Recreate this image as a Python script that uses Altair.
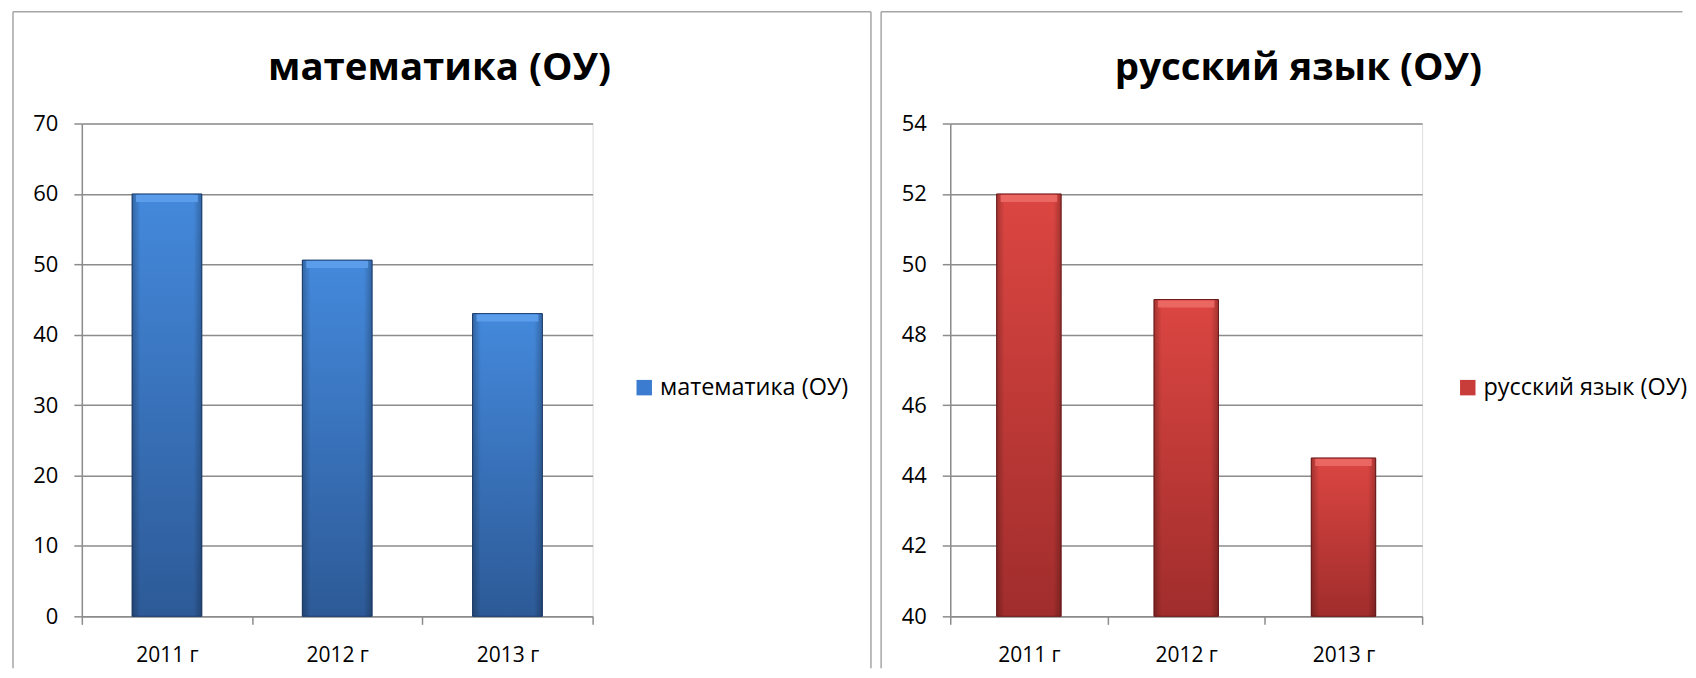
import altair as alt
import pandas as pd

years = ["2011 г", "2012 г", "2013 г"]
math_values = [60, 50.6, 43]
rus_values = [52, 49, 44.5]
math_title = "математика (ОУ)"
rus_title = "русский язык (ОУ)"
math_ticks = [0, 10, 20, 30, 40, 50, 60, 70]
rus_ticks = [40, 42, 44, 46, 48, 50, 52, 54]

FONT = "Open Sans"
GRID = "#8C8C8C"
BORDER = "#A6A6A6"
PLOT_H = 494


def panel(values, title, ticks, legend_color, c_top, c_bot, c_edge, c_bevel,
          width, title_x, legend_x, border_left, border_right, border_top_end):
    df = pd.DataFrame({"year": years, "value": values, "series": [title] * len(years)})
    bar_px = width / 3 * 0.41
    x = alt.X("year:N", sort=years, title=None,
              scale=alt.Scale(paddingInner=0, paddingOuter=0),
              axis=alt.Axis(labelAngle=0, tickBand="extent", tickSize=8,
                            tickColor=GRID, tickWidth=1.5, domainColor=GRID,
                            domainWidth=1.5, labelFont=FONT, labelFontSize=21,
                            labelColor="#000000", labelPadding=20, grid=False))
    y = alt.Y("value:Q", title=None,
              scale=alt.Scale(domain=[ticks[0], ticks[-1]], nice=False, zero=False,
                              clamp=True),
              axis=alt.Axis(values=ticks, tickSize=8, tickColor=GRID, tickWidth=1.5,
                            domainColor=GRID, domainWidth=1.5, gridColor=GRID,
                            gridWidth=1.5, grid=True, labelFont=FONT, labelFontSize=22,
                            labelColor="#000000", labelPadding=16))
    base = alt.Chart(df)
    legend_bars = base.mark_bar(width=alt.RelativeBandSize(0.41)).encode(
        x=x, y=y,
        color=alt.Color("series:N", title=None,
                        scale=alt.Scale(range=[legend_color]),
                        legend=alt.Legend(orient="none", legendX=legend_x, legendY=253,
                                          symbolType="square", symbolSize=240,
                                          symbolStrokeWidth=0, labelFont=FONT,
                                          labelFontSize=23.5, labelColor="#000000",
                                          labelOffset=4, labelLimit=0, padding=0)))
    grad = alt.LinearGradient(
        gradient="linear", x1=0, x2=0, y1=0, y2=1,
        stops=[alt.GradientStop(color=c_top, offset=0),
               alt.GradientStop(color=c_bot, offset=1)])
    bars = base.mark_bar(width=alt.RelativeBandSize(0.41), color=grad,
                         stroke=c_edge, strokeWidth=1).encode(x=x, y=y)
    side = alt.LinearGradient(
        gradient="linear", x1=0, x2=1, y1=0, y2=0,
        stops=[alt.GradientStop(color="rgba(0,0,0,0.25)", offset=0),
               alt.GradientStop(color="rgba(0,0,0,0)", offset=0.12),
               alt.GradientStop(color="rgba(0,0,0,0)", offset=0.88),
               alt.GradientStop(color="rgba(0,0,0,0.25)", offset=1)])
    shade = base.mark_bar(width=alt.RelativeBandSize(0.41), color=side).encode(x=x, y=y)
    bevel = base.mark_tick(orient="horizontal", thickness=7, size=bar_px - 8,
                           yOffset=4.5, color=c_bevel, opacity=0.9).encode(x=x, y=y)

    one = alt.Chart(pd.DataFrame({"t": [title]}))
    layers = [legend_bars, bars, shade, bevel]
    layers.append(one.mark_rule(color=BORDER, strokeWidth=1.5).encode(
        x=alt.value(border_left), y=alt.value(-112), y2=alt.value(546)))
    layers.append(one.mark_rule(color=BORDER, strokeWidth=1.5).encode(
        x=alt.value(border_left), x2=alt.value(border_top_end), y=alt.value(-112)))
    if border_right is not None:
        layers.append(one.mark_rule(color=BORDER, strokeWidth=1.5).encode(
            x=alt.value(border_right), y=alt.value(-112), y2=alt.value(546)))
    layers.append(one.mark_text(font=FONT, fontSize=38.5, fontWeight="bold",
                                align="center", baseline="alphabetic",
                                color="#000000").encode(
        x=alt.value(title_x), y=alt.value(-44), text="t:N"))
    return alt.layer(*layers).properties(width=width, height=PLOT_H)


left = panel(math_values, math_title, math_ticks, "#3C7CD0", "#4489DC", "#2D5A97",
             "#1F3F6F", "#5FA0EC", 512, 358.5, 552, -69, 791, 791)
right = panel(rus_values, rus_title, rus_ticks, "#C83C3A", "#DC4642", "#A02D2C",
              "#6E1C1C", "#EC6A66", 473, 349, 507, -69.3, None, 734)

chart = alt.hconcat(left, right, spacing=6.5).resolve_scale(
    color="independent").resolve_legend(color="independent").properties(
    padding={"left": 3, "top": 1, "right": 0, "bottom": 0}
).configure_view(stroke=None).configure(background="white")

chart.save("out.html", embed_options={"renderer": "svg", "actions": False})
